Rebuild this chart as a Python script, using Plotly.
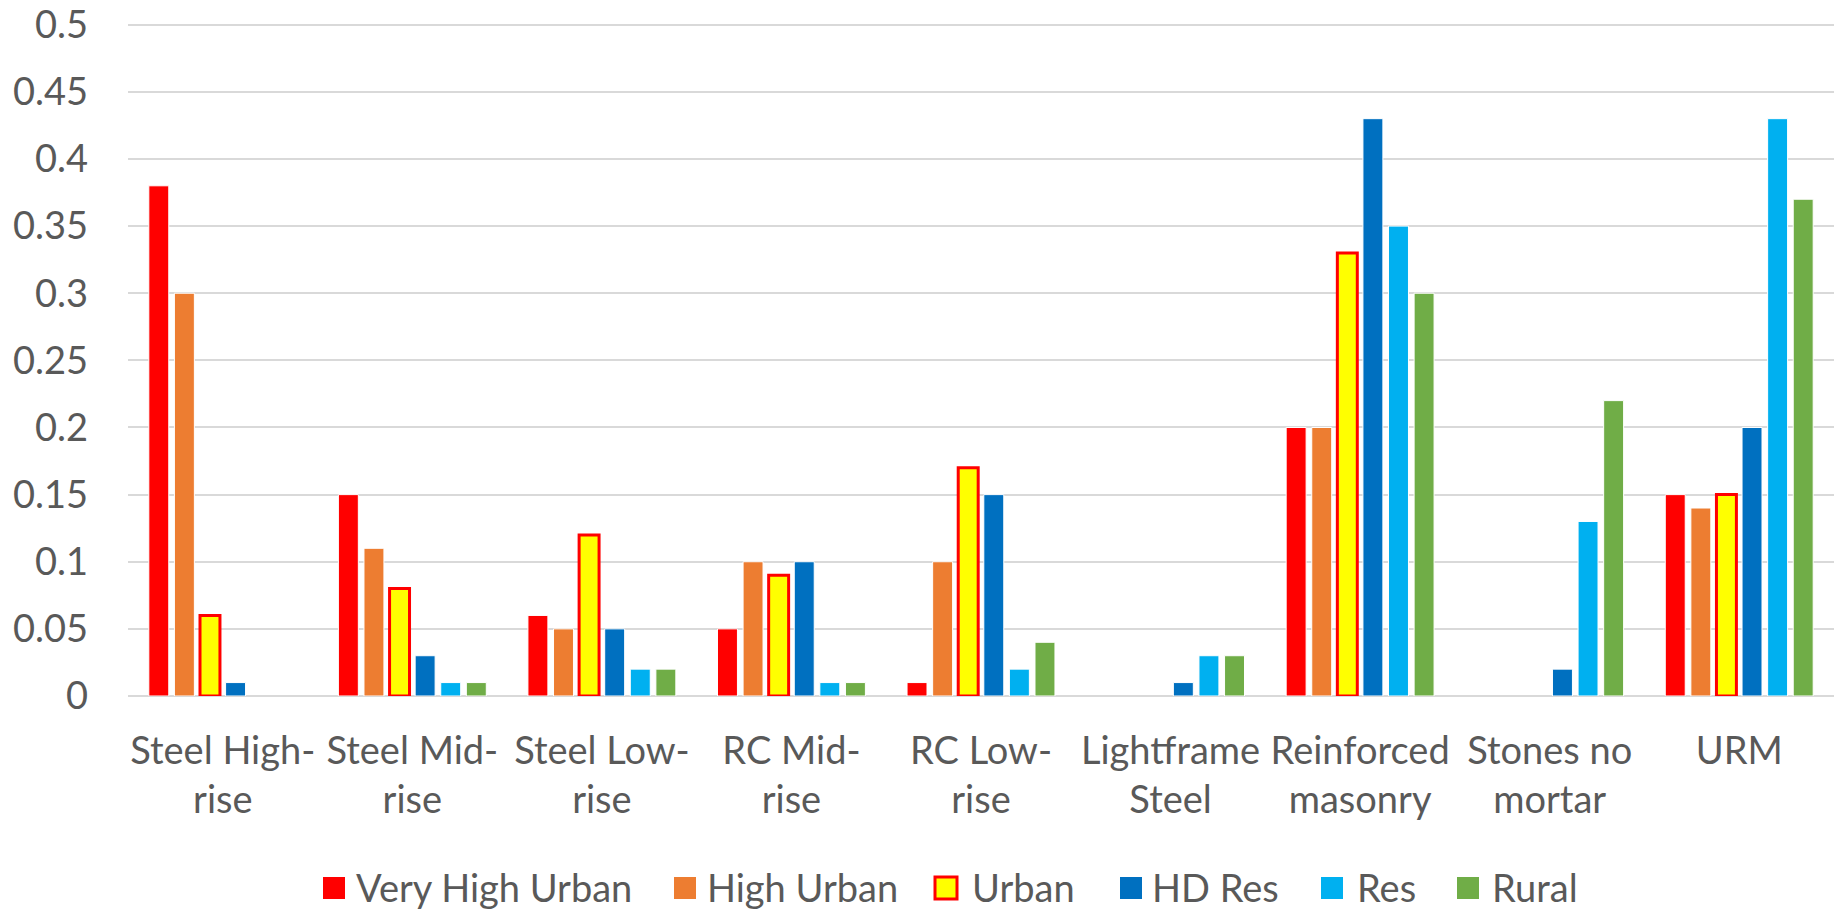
import plotly.graph_objects as go

categories = ["Steel High-<br>rise", "Steel Mid-<br>rise", "Steel Low-<br>rise", "RC Mid-<br>rise",
              "RC Low-<br>rise", "Lightframe<br>Steel", "Reinforced<br>masonry", "Stones no<br>mortar", "URM"]

very_high_urban = [0.38, 0.15, 0.06, 0.05, 0.01, 0, 0.20, 0, 0.15]
high_urban      = [0.30, 0.11, 0.05, 0.10, 0.10, 0, 0.20, 0, 0.14]
urban           = [0.06, 0.08, 0.12, 0.09, 0.17, 0, 0.33, 0, 0.15]
hd_res          = [0.01, 0.03, 0.05, 0.10, 0.15, 0.01, 0.43, 0.02, 0.20]
res             = [0, 0.01, 0.02, 0.01, 0.02, 0.03, 0.35, 0.13, 0.43]
rural           = [0, 0.01, 0.02, 0.01, 0.04, 0.03, 0.30, 0.22, 0.37]

y_tick_values = [0, 0.05, 0.1, 0.15, 0.2, 0.25, 0.3, 0.35, 0.4, 0.45, 0.5]
y_tick_labels = ["0", "0.05", "0.1", "0.15", "0.2", "0.25", "0.3", "0.35", "0.4", "0.45", "0.5"]

series_names = ["Very High Urban", "High Urban", "Urban", "HD Res", "Res", "Rural"]
series_values = [very_high_urban, high_urban, urban, hd_res, res, rural]
fill_colors = ["#FF0000", "#ED7D31", "#FFFF00", "#0070C0", "#00B0F0", "#70AD47"]
line_colors = ["#FFFFFF", "#FFFFFF", "#FF0000", "#FFFFFF", "#FFFFFF", "#FFFFFF"]
line_widths = [1, 1, 3, 1, 1, 1]

# legend layout (pixel positions of the legend entries in the 1834x909 page)
legend_square_left = [323, 674, 935, 1120, 1321, 1457]
legend_text_left = [354, 705, 970, 1150, 1355, 1490]
LEG_Y = 888
SQ = 22

W, H = 1834, 909
ML, MR, MT, MB = 128, 0, 22, 213
PW, PH = W - ML - MR, H - MT - MB

def px(x):
    return (x - ML) / PW

def py(y):
    return (H - MB - y) / PH

FONT = "Lato"
TXT = "#595959"
GRID = "#D9D9D9"

fig = go.Figure()
for name, vals, col, lcol, lw in zip(series_names, series_values, fill_colors, line_colors, line_widths):
    widths = [lw if v > 0 else 0 for v in vals]
    fig.add_trace(go.Bar(x=categories, y=vals, name=name, showlegend=False,
                         marker=dict(color=col, line=dict(color=lcol, width=widths))))

shapes = []
annotations = []
for name, col, lcol, lw, sl, tl in zip(series_names, fill_colors, line_colors, line_widths,
                                        legend_square_left, legend_text_left):
    border = lw >= 2
    shapes.append(dict(type="rect", xref="paper", yref="paper",
                       x0=px(sl), x1=px(sl + SQ), y0=py(LEG_Y + SQ / 2), y1=py(LEG_Y - SQ / 2),
                       fillcolor=col, line=dict(color=lcol if border else col, width=3 if border else 0)))
    annotations.append(dict(xref="paper", yref="paper", x=px(tl), y=py(LEG_Y - 1),
                            xanchor="left", yanchor="middle", text=name, showarrow=False,
                            font=dict(family=FONT, size=38, color=TXT)))

fig.update_layout(
    width=W, height=H,
    barmode="group", bargap=0.19, bargroupgap=0.22,
    plot_bgcolor="white", paper_bgcolor="white",
    margin=dict(l=ML, r=MR, t=MT, b=MB),
    font=dict(family=FONT, size=38, color=TXT),
    showlegend=False, hovermode=False,
    shapes=shapes, annotations=annotations,
)
fig.update_yaxes(range=[0, 0.502], tickmode="array", tickvals=y_tick_values, ticktext=y_tick_labels,
                 showgrid=True, gridcolor=GRID, gridwidth=2,
                 zeroline=True, zerolinecolor=GRID, zerolinewidth=2, showline=False,
                 ticks="", ticklabelstandoff=39, automargin=False, ticklabeloverflow="allow",
                 tickfont=dict(family=FONT, size=38, color=TXT))
fig.update_xaxes(showgrid=False, showline=False, ticks="", ticklabelstandoff=29, automargin=False,
                 tickfont=dict(family=FONT, size=38, color=TXT))

fig.write_html("out.html", config={"displayModeBar": False},
               post_script="document.body.style.margin='0';document.body.style.overflow='hidden';")
